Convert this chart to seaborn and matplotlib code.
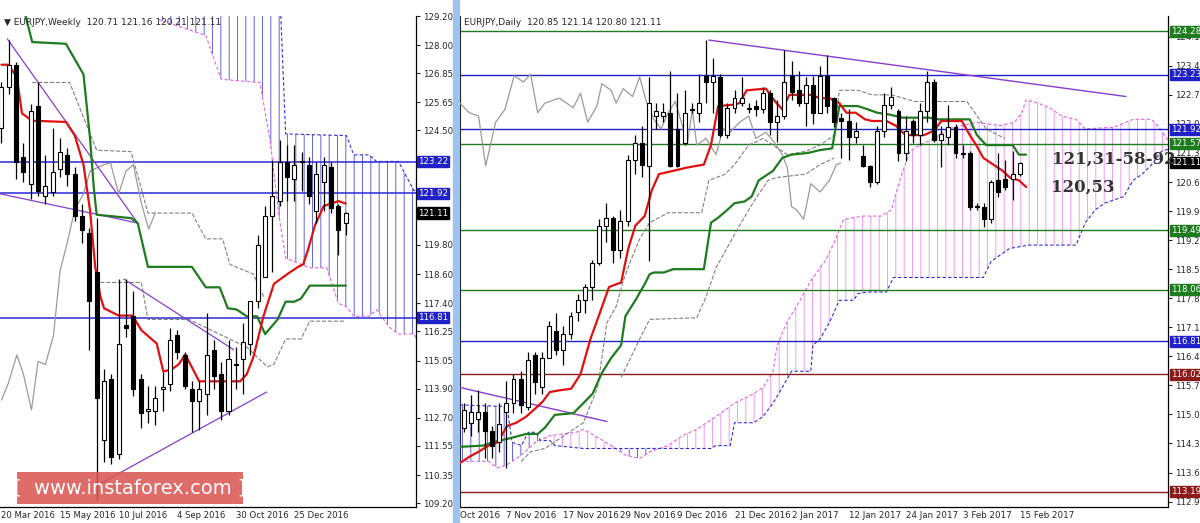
import numpy as np
import pandas as pd
import matplotlib
matplotlib.use('Agg')
from matplotlib import pyplot as plt
from matplotlib.patches import Rectangle
import matplotlib.transforms as mtransforms
import seaborn as sns

# ---------------- weekly data (left panel) ----------------
w_open = [124.6, 126.3, 127.2, 123.4, 122.3, 125.5, 121.8, 121.97, 122.9, 123.5, 122.7, 121.0,
          120.3, 118.7, 111.8, 114.3, 111.2, 116.5, 116.9, 114.3, 113.0, 113.0, 113.9, 114.1,
          116.1, 115.3, 113.9, 113.4, 113.7, 115.5, 114.5, 113.0, 114.9, 115.1, 115.75, 117.5,
          118.5, 121.0, 121.6, 123.2, 122.5, 123.2, 123.1, 121.2, 122.4, 123.0, 121.4, 120.71]
w_high = [126.5, 128.2, 127.3, 124.0, 125.6, 126.5, 123.5, 124.6, 124.2, 123.8, 123.0, 121.5,
          120.5, 120.9, 114.7, 114.5, 118.4, 118.4, 117.9, 114.5, 114.0, 114.0, 114.6, 116.4,
          116.3, 115.4, 114.2, 114.2, 117.0, 115.9, 115.0, 115.9, 115.6, 116.6, 117.5, 120.2,
          121.4, 123.3, 124.1, 123.9, 123.9, 123.6, 123.4, 123.2, 123.4, 123.2, 121.5, 121.16]
w_low = [124.0, 126.0, 122.5, 122.4, 121.7, 121.8, 121.5, 121.8, 122.6, 122.2, 120.8, 119.9,
         115.5, 109.3, 110.9, 110.8, 111.0, 116.0, 113.6, 112.3, 112.5, 112.4, 113.0, 113.8,
         115.1, 113.9, 112.1, 112.2, 112.8, 113.9, 112.6, 112.8, 113.9, 113.7, 115.3, 117.2,
         118.6, 118.7, 121.4, 121.6, 121.6, 122.0, 121.5, 120.7, 121.2, 121.1, 119.4, 120.21]
w_close = [126.3, 127.2, 123.2, 122.8, 125.3, 122.0, 122.2, 122.8, 123.6, 122.7, 121.0, 120.4,
           117.5, 113.5, 114.2, 111.1, 115.75, 116.4, 113.9, 112.9, 113.05, 113.5, 113.95, 115.9,
           115.4, 114.0, 113.4, 113.9, 115.3, 114.4, 113.0, 115.1, 114.85, 115.8, 117.5, 119.8,
           121.0, 121.8, 123.2, 122.6, 123.1, 123.25, 121.8, 122.7, 123.1, 121.3, 120.4, 121.11]

w_tenkan_x = [0, 0.9, 2.1, 2.8, 4.2, 8.8, 10, 11.2, 12.1, 12.8, 13.5, 14, 16, 17.9, 19.1, 21.2, 22.1,
              23.3, 24.2, 25.1, 27, 29.8, 32.6, 33.5, 34.4, 35.8, 37.2, 38.1, 39.5, 40.5, 41.2, 41.9,
              42.8, 44, 46, 47]
w_tenkan_y = [127.2, 127.2, 126.7, 125.2, 124.9, 124.85, 124.3, 123.1, 121.2, 118.9, 117.7, 117.2,
              116.9, 116.9, 116.3, 115.75, 114.6, 114.7, 114.9, 115.3, 114.2, 114.2, 114.2, 114.5,
              115.2, 116.9, 118.2, 118.4, 118.7, 118.9, 119.0, 119.65, 120.6, 121.4, 121.6, 121.5]
w_kijun_x = [2.8, 3.3, 4.2, 8.8, 11.2, 12.1, 12.6, 13, 17.7, 18.6, 20, 26, 27.9, 29.8, 30.9, 32.1,
             33.5, 34.9, 36, 37.7, 38.8, 40, 40.9, 42.1, 47]
w_kijun_y = [129.8, 129.19, 128.13, 128.06, 126.8, 124.16, 122.17, 121.04, 120.9, 120.7, 118.9,
             118.9, 118.06, 118.06, 117.2, 117.15, 116.87, 116.87, 116.14, 116.74, 117.47, 117.47,
             117.6, 118.13, 118.13]
w_chikou_x = [0, 0.9, 2.1, 3, 4.1, 5, 6, 7.1, 8, 9, 10, 11.2, 12.1, 13, 14, 14.9, 16, 17, 18, 19.1,
              20.1, 21]
w_chikou_y = [113.43, 114.09, 115.28, 114.49, 113.03, 115.02, 114.89, 116.08, 118.73, 119.92,
              121.24, 121.9, 122.83, 122.96, 123.1, 123.16, 121.9, 122.83, 123.1, 121.51, 120.45,
              121.11]
w_span1_x = [21.4, 27.9, 30, 35.3, 36.7, 37.9, 38.8, 42.1, 44.4, 46, 47.1, 48.1, 50.2, 51.2, 53, 54.2,
             56.3, 57.2, 58.1]
w_span1_y = [129.06, 128.4, 126.6, 126.47, 124.03, 120.98, 119.26, 118.86, 118.86, 117.4, 117.27,
             116.87, 116.87, 117.14, 116.41, 116.14, 116.14, 115.68, 115.61]
w_span2_y = [131.0, 131.0, 131.0, 131.0, 131.0, 131.0, 124.36, 124.33, 124.31, 124.3, 124.29,
             123.5, 123.5, 123.23, 123.23, 123.23, 122.04, 122.0, 121.97]
w_gray1_x = [4.2, 9.3, 13, 17.7, 20, 26, 27.9, 30.2, 31.2, 34.4, 35.8]
w_gray1_y = [126.47, 126.47, 123.69, 123.63, 121.11, 121.11, 120.05, 120.05, 119.0, 118.6, 117.67]
w_gray2_x = [13.5, 19.1, 20, 25.6, 33.5, 36.3, 37.2, 38.8, 40.9, 42.1, 47]
w_gray2_y = [118.26, 118.26, 116.74, 116.74, 115.6, 114.8, 114.9, 115.94, 115.94, 116.67, 116.67]
w_trend = [((-0.2, 121.9), (18.6, 120.7)), ((0.8, 128.26), (18.6, 120.7)),
           ((16.7, 118.4), (31.7, 115.5)), ((13.5, 110.0), (36.2, 113.76))]
w_levels = [123.22, 121.92, 116.81]
w_ticks = [129.20, 128.00, 126.85, 125.65, 124.50, 119.80, 118.60, 117.40, 116.25, 115.05,
           113.90, 112.70, 111.55, 110.35, 109.20]
w_dates = ['20 Mar 2016', '15 May 2016', '10 Jul 2016', '4 Sep 2016', '30 Oct 2016', '25 Dec 2016']
w_date_pos = [0, 8, 16, 24, 32, 40]

# ---------------- daily data (right panel) ----------------
d_open = [114.73, 114.85, 114.93, 115.12, 114.65, 114.38, 115.12, 115.32, 115.9, 115.24, 116.48,
          115.7, 116.41, 117.07, 116.6, 116.99, 117.53, 117.8, 118.12, 118.7, 119.6, 119.79, 119.01,
          119.71, 121.19, 121.58, 121.04, 122.24, 122.24, 122.32, 121.93, 121.58, 122.38, 122.32,
          123.21, 123.06, 123.18, 121.78, 122.44, 122.55, 122.41, 122.48, 122.4, 122.79, 122.09,
          122.24, 123.21, 122.86, 122.55, 122.98, 122.32, 123.21, 122.67, 122.2, 122.12, 121.74,
          121.27, 121.04, 120.65, 121.89, 122.51, 122.36, 121.35, 122.12, 121.78, 122.36, 123.06,
          121.66, 121.74, 121.97, 121.35, 121.35, 120.08, 120.06, 119.75, 120.69, 120.73, 120.73,
          120.85]
d_high = [115.32, 115.51, 115.63, 115.32, 114.77, 115.32, 115.86, 116.02, 116.1, 116.56, 116.56,
          116.56, 117.3, 117.5, 117.18, 117.53, 117.96, 118.2, 118.78, 119.75, 120.14, 119.83, 119.98,
          121.3, 121.78, 122.01, 123.18, 122.55, 122.55, 123.33, 122.79, 122.86, 122.55, 123.25,
          124.07, 123.64, 123.25, 122.55, 122.86, 123.18, 122.55, 122.63, 122.94, 122.86, 122.63,
          123.84, 123.56, 123.33, 123.18, 123.21, 123.45, 123.72, 122.71, 122.32, 122.4, 122.09,
          121.54, 121.07, 122.01, 122.79, 122.94, 122.4, 122.24, 122.16, 122.55, 123.33, 123.14,
          122.01, 122.51, 122.05, 121.54, 121.39, 120.14, 120.14, 120.69, 121.35, 121.19, 121.39,
          121.14]
d_low = [114.62, 114.54, 114.62, 113.99, 113.99, 114.15, 113.76, 115.08, 115.08, 115.16, 115.55,
         115.55, 116.41, 116.48, 116.25, 116.87, 117.3, 117.49, 117.8, 118.66, 119.2, 118.7, 118.82,
         119.6, 120.84, 120.76, 118.74, 121.93, 122.09, 121.0, 121.0, 121.54, 122.32, 122.09,
         122.55, 122.32, 121.74, 121.7, 122.32, 122.48, 122.32, 122.24, 122.32, 121.78, 121.62,
         122.16, 122.63, 122.48, 122.01, 122.05, 122.32, 122.32, 121.97, 121.23, 121.19, 121.58,
         121.0, 120.53, 120.61, 121.74, 122.4, 121.15, 121.15, 121.58, 121.54, 122.09, 121.62,
         121.0, 121.54, 121.23, 121.23, 119.98, 119.98, 119.56, 119.67, 120.3, 120.45, 120.22,
         120.80]
d_close = [115.16, 115.12, 115.12, 114.65, 114.3, 114.81, 115.32, 115.9, 115.28, 116.37, 115.82,
           116.41, 117.18, 116.6, 116.99, 117.42, 117.8, 118.12, 118.7, 119.6, 119.79, 119.01, 119.71,
           121.19, 121.58, 121.07, 122.55, 122.36, 122.34, 121.04, 121.04, 122.32, 122.41, 122.55,
           123.06, 123.21, 121.78, 122.44, 122.67, 122.67, 122.43, 122.4, 122.79, 122.09, 122.24,
           123.06, 122.82, 122.55, 122.98, 122.32, 123.21, 122.48, 122.09, 122.12, 121.74, 121.89,
           121.04, 120.65, 121.89, 122.51, 122.71, 121.35, 121.89, 121.78, 122.36, 123.06, 121.66,
           121.81, 121.97, 121.35, 121.33, 120.06, 120.05, 119.75, 120.65, 120.41, 120.53, 120.84,
           121.11]

d_tenkan_x = [-0.5, 0.8, 2.1, 3.5, 4.8, 6.1, 7.4, 8.8, 10.1, 11.1, 12.1, 13.4, 15.1, 16.4, 17.8, 19.1,
              20.4, 22.1, 23.1, 24.1, 25.4, 26.4, 27.4, 29.4, 31.4, 32.7, 33.7, 34.7, 35.7, 37.7, 38.7,
              39.7, 42.4, 43.7, 44.7, 45.7, 48.7, 50, 51.3, 52.7, 53.7, 55, 56.3, 57.3, 59.3, 60.6,
              62, 64.6, 66, 67, 69.9, 70.9, 71.9, 72.9, 74.3, 75.6, 76.6, 77.9, 78.9]
d_tenkan_y = [113.88, 114.03, 114.15, 114.3, 114.38, 114.77, 114.85, 115.0, 115.2, 115.36, 115.59,
              115.63, 115.67, 116.02, 116.87, 117.49, 118.12, 118.23, 119.05, 119.6, 119.83, 120.45,
              120.84, 120.92, 121.0, 121.04, 121.07, 121.54, 122.48, 122.51, 122.55, 122.86, 122.9,
              122.59, 122.4, 122.75, 122.75, 122.67, 122.67, 122.55, 122.32, 122.32, 122.16, 122.12,
              122.12, 122.01, 121.78, 121.78, 121.89, 122.12, 122.12, 121.81, 121.54, 121.23, 121.07,
              120.92, 120.76, 120.69, 120.53]
d_kijun_x = [-0.5, 2.8, 4.1, 6.1, 8.8, 10.4, 11.4, 12.8, 15.4, 16.8, 18.1, 19.4, 20.7, 22.1, 22.7,
             24.1, 25.4, 26.1, 26.7, 28.1, 29.4, 33.7, 34.7, 35.7, 37, 38, 39.4, 40.4, 41.4, 43.4, 44.7,
             46, 48.3, 50, 51.7, 52.7, 55.3, 56.7, 58, 59.6, 61.6, 65.3, 66.6, 71, 72, 73.3, 77, 77.9,
             78.9]
d_kijun_y = [114.27, 114.3, 114.38, 114.46, 114.58, 114.58, 114.73, 115.04, 115.08, 115.32, 115.55,
             116.05, 116.41, 116.72, 117.42, 117.8, 118.19, 118.43, 118.47, 118.47, 118.55, 118.55,
             119.67, 119.79, 119.98, 120.14, 120.18, 120.3, 120.69, 120.92, 121.23, 121.31, 121.35,
             121.42, 121.46, 122.48, 122.48, 122.4, 122.32, 122.28, 122.2, 122.2, 122.16, 122.16,
             121.78, 121.54, 121.54, 121.31, 121.31]
d_chikou_x = [-0.5, 0.8, 2.1, 3.1, 4.5, 5.8, 7.1, 8.4, 9.4, 10.4, 11.4, 13.4, 15.4, 16.4, 17.4, 18.7,
              19.4, 20.7, 21.4, 22.4, 23.7, 24.7, 25.7, 26.7, 27.7, 28.7, 29.7, 31.4, 32.1, 32.7, 34,
              35.4, 36.4, 37.4, 38.7, 40, 41, 42.4, 43.7, 44.7, 45.4, 46, 46.7, 47.7, 48.7, 50, 51.3,
              52.3, 52.9]
d_chikou_y = [122.55, 122.32, 122.24, 121.04, 122.09, 122.4, 123.21, 123.06, 123.25, 122.32, 122.55,
              122.67, 122.44, 122.79, 122.09, 122.48, 123.02, 122.86, 122.55, 122.9, 122.71, 123.18,
              122.55, 122.16, 121.93, 122.32, 122.59, 121.58, 122.4, 121.54, 121.7, 121.31, 121.93,
              121.85, 122.09, 122.24, 121.7, 121.85, 121.58, 121.31, 121.0, 120.06, 119.98, 119.75,
              120.61, 120.41, 120.69, 121.07, 121.11]
d_spanA_x = [-0.5, 3.5, 4.8, 6.1, 8.1, 10.1, 12.1, 15.8, 16.8, 18.4, 20.7, 22.7, 24.7, 26.1, 28.7,
             30.7, 32.7, 35.4, 38, 40.7, 42, 43.4, 44, 45.3, 46.7, 48.7, 50.7, 52, 53.3, 56, 58.6, 60,
             61.3, 62.6, 64, 66, 68, 69.9, 71.9, 75.3, 77.3, 78.3, 78.9, 80.6, 82.2, 83.9, 85.9, 87.2,
             91.2, 93.9, 96.5, 97.9, 99.2]
d_spanA_y = [113.92, 113.92, 113.76, 113.84, 114.07, 114.38, 114.54, 114.62, 114.69, 114.54, 114.3,
             114.07, 113.99, 114.15, 114.3, 114.54, 114.69, 115.0, 115.32, 115.55, 115.7, 116.09,
             116.72, 117.26, 117.65, 118.27, 118.74, 119.2, 119.75, 119.83, 119.83, 119.98, 120.76,
             121.39, 121.54, 121.7, 121.93, 122.01, 122.09, 122.01, 122.09, 122.32, 122.63, 122.55,
             122.44, 122.24, 122.16, 121.93, 121.97, 122.16, 122.16, 121.89, 121.54]
d_spanB_x = [-0.5, 6.1, 6.8, 8.1, 9.1, 10.1, 10.8, 12.1, 12.8, 16.8, 34.7, 35.4, 37.4, 38, 40.7, 42,
             43.4, 44.7, 46, 48.7, 49, 50, 51.3, 52.7, 54.7, 55.3, 56.6, 59.3, 60.3, 72.9, 74, 76.6,
             79.3, 85.9, 87.2, 88.6, 89.9, 92.6, 93.9, 95.2, 96.5, 97.9, 99.2]
d_spanB_y = [115.28, 115.24, 114.38, 114.3, 114.62, 114.62, 114.42, 114.42, 114.3, 114.23, 114.23,
             114.3, 114.3, 114.85, 114.85, 115.0, 115.32, 115.7, 116.09, 116.09, 116.72, 116.87,
             117.26, 117.8, 117.8, 117.96, 118.0, 118.0, 118.35, 118.35, 118.74, 119.05, 119.13,
             119.13, 119.67, 119.98, 120.14, 120.3, 120.69, 120.84, 121.07, 121.39, 121.46]
d_gray1_x = [8.1, 9.4, 11.4, 16.8, 18.8, 20.1, 21.4, 22.4, 23.4, 24.7, 26.1, 28.7, 33.4, 34.4, 36.7,
             38, 40, 42, 43.4, 45.4, 48, 50, 52, 52.7, 55.3, 57.3, 60, 63.3, 70.6, 73.3, 75.9]
d_gray1_y = [113.92, 114.15, 114.23, 114.85, 115.7, 117.26, 117.65, 118.27, 118.74, 119.28, 119.67,
             119.91, 119.91, 120.69, 120.84, 121.07, 121.54, 121.7, 121.54, 121.31, 121.39, 121.54,
             121.78, 122.86, 122.86, 122.75, 122.75, 122.59, 122.59, 121.93, 121.7]
d_gray2_x = [22.1, 24.7, 26.1, 32.7, 34, 35.4, 37.4, 38.7, 40.7, 42.7, 44, 46, 48, 50, 52]
d_gray2_y = [115.94, 116.87, 117.34, 117.38, 117.88, 118.58, 119.2, 119.6, 120.18, 120.69, 120.76,
             120.8, 120.84, 121.07, 121.23]
d_trend = [((34.4, 124.07), (92.9, 122.71)), ((-0.5, 115.7), (20.1, 114.88))]
d_levels = [124.28, 123.23, 121.92, 121.57, 119.49, 118.06, 116.81, 116.02, 113.19]
d_level_colors = ['#1e7b1e', '#2020c8', '#2020c8', '#1e7b1e', '#1e7b1e', '#1e7b1e', '#2020c8',
                  '#8b1a1a', '#8b1a1a']
d_ticks = [124.15, 123.45, 122.75, 122.05, 121.35, 120.65, 119.95, 119.25, 118.55, 117.85, 117.15,
           116.45, 115.75, 115.05, 114.35, 113.65, 112.95]
d_dates = ['Oct 2016', '7 Nov 2016', '17 Nov 2016', '29 Nov 2016', '9 Dec 2016', '21 Dec 2016',
           '2 Jan 2017', '12 Jan 2017', '24 Jan 2017', '3 Feb 2017', '15 Feb 2017']
d_date_pos = [-0.55, 6, 14, 22, 30, 38, 46, 54, 62, 70, 78]

# ---------------- drawing ----------------
sns.set_style('white')
plt.rcParams['font.family'] = ['DejaVu Sans']
plt.rcParams['hatch.linewidth'] = 0.6

fig = plt.figure(figsize=(12, 5.23), dpi=100)
H = 523.0
ax_w = fig.add_axes([0.0, 16 / H, 416 / 1200, 491 / H])
ax_d = fig.add_axes([460 / 1200, 16 / H, 708 / 1200, 491 / H])
fig.patches.append(Rectangle((453 / 1200, 0), 6 / 1200, 1, transform=fig.transFigure,
                             color='#9fc3ee', zorder=0))

PINK = '#e860e8'
BLUE = '#3030d0'


def candles(ax, o, h, l, c, width):
    x = np.arange(len(o))
    o, h, l, c = map(np.asarray, (o, h, l, c))
    ax.vlines(x, l, h, color='black', linewidth=0.9, zorder=4)
    up = c >= o
    bottom = np.minimum(o, c)
    height = np.maximum(np.abs(c - o), 0.02)
    ax.bar(x[up], height[up], width, bottom=bottom[up], color='white', edgecolor='black',
           linewidth=0.8, zorder=5)
    ax.bar(x[~up], height[~up], width, bottom=bottom[~up], color='black', edgecolor='black',
           linewidth=0.8, zorder=5)


def cloud(ax, xa, ya, xb, yb, x_end):
    grid = np.linspace(xa[0], x_end, 600)
    a = np.interp(grid, xa, ya)
    b = np.interp(grid, xb, yb)
    ax.fill_between(grid, a, b, where=a >= b, interpolate=True, facecolor='none',
                    edgecolor='#f08cf0', hatch='||', linewidth=0, zorder=1)
    ax.fill_between(grid, a, b, where=a < b, interpolate=True, facecolor='none',
                    edgecolor='#4a4ad8', hatch='||', linewidth=0, zorder=1)
    ax.plot(xa, ya, color=PINK, lw=0.8, ls=(0, (3, 2)), zorder=2)
    ax.plot(xb, yb, color=BLUE, lw=0.8, ls=(0, (3, 2)), zorder=2)


def line(ax, xs, ys, color, lw, ls='-'):
    sns.lineplot(x=xs, y=ys, ax=ax, color=color, linewidth=lw, linestyle=ls, sort=False,
                 estimator=None, zorder=3)


def style_axis(ax, ticks, xlim, ylim):
    ax.set_xlim(*xlim)
    ax.set_ylim(*ylim)
    ax.yaxis.tick_right()
    ax.set_yticks(ticks)
    ax.set_yticklabels([f'{t:.2f}' for t in ticks], fontsize=6.2)
    ax.tick_params(axis='y', length=3, width=0.8, pad=2, direction='out', right=True)
    ax.set_xticks([])
    for s in ['top', 'left']:
        ax.spines[s].set_visible(False)
    for s in ['right', 'bottom']:
        ax.spines[s].set_color('black')
        ax.spines[s].set_linewidth(0.9)


def level_box(ax, y, text, color, textcolor='white'):
    trans = mtransforms.blended_transform_factory(ax.transAxes, ax.transData)
    ax.text(1.004, y, text, transform=trans, fontsize=6.2, color=textcolor, va='center',
            ha='left', clip_on=False, zorder=10,
            bbox=dict(boxstyle='square,pad=0.12', facecolor=color, edgecolor=color))


# weekly
w_ylim = (109.04, 129.19)
cloud(ax_w, w_span1_x, w_span1_y, w_span1_x, w_span2_y, 58.1)
line(ax_w, w_gray1_x, w_gray1_y, '#808080', 0.8, '--')
line(ax_w, w_gray2_x, w_gray2_y, '#808080', 0.8, '--')
line(ax_w, w_chikou_x, w_chikou_y, '#9a9a9a', 0.9)
for lv in w_levels:
    ax_w.axhline(lv, color='#2a2ad8', lw=1.1, zorder=2)
for (x0, y0), (x1, y1) in w_trend:
    ax_w.plot([x0, x1], [y0, y1], color='#8a3ccf', lw=0.9, zorder=3)
line(ax_w, w_kijun_x, w_kijun_y, '#1e7b1e', 1.6)
line(ax_w, w_tenkan_x, w_tenkan_y, '#e01010', 1.6)
candles(ax_w, w_open, w_high, w_low, w_close, 0.55)
style_axis(ax_w, w_ticks, (-0.2, 56.6), w_ylim)
level_box(ax_w, 123.22, '123.22', '#2020c8')
level_box(ax_w, 121.92, '121.92', '#2020c8')
level_box(ax_w, 121.11, '121.11', 'black')
level_box(ax_w, 116.81, '116.81', '#2020c8')
for p, lab in zip(w_date_pos, w_dates):
    ax_w.text(p, -0.008, lab, transform=mtransforms.blended_transform_factory(ax_w.transData,
              ax_w.transAxes), fontsize=6.1, va='top', ha='left', clip_on=False)
ax_w.text(0.01, 0.995, '\u25bc EURJPY,Weekly  120.71 121.16 120.21 121.11', transform=ax_w.transAxes,
          fontsize=6.5, va='top', ha='left', zorder=11)

# daily
d_ylim = (112.82, 124.65)
cloud(ax_d, d_spanA_x, d_spanA_y, d_spanB_x, d_spanB_y, 99.2)
line(ax_d, d_gray1_x, d_gray1_y, '#808080', 0.8, '--')
line(ax_d, d_gray2_x, d_gray2_y, '#808080', 0.8, '--')
line(ax_d, d_chikou_x, d_chikou_y, '#9a9a9a', 0.9)
for lv, col in zip(d_levels, d_level_colors):
    ax_d.axhline(lv, color=col, lw=1.0, zorder=2)
for (x0, y0), (x1, y1) in d_trend:
    ax_d.plot([x0, x1], [y0, y1], color='#8a3ccf', lw=1.0, zorder=3)
line(ax_d, d_kijun_x, d_kijun_y, '#1e7b1e', 1.6)
line(ax_d, d_tenkan_x, d_tenkan_y, '#e01010', 1.6)
candles(ax_d, d_open, d_high, d_low, d_close, 0.55)
style_axis(ax_d, d_ticks, (-0.5, 98.8), d_ylim)
ax_d.spines['left'].set_visible(True)
ax_d.spines['left'].set_color('black')
for lv, col in zip(d_levels, d_level_colors):
    level_box(ax_d, lv, f'{lv:.2f}', col)
level_box(ax_d, 121.11, '121.11', 'black')
for p, lab in zip(d_date_pos, d_dates):
    ax_d.text(p, -0.008, lab, transform=mtransforms.blended_transform_factory(ax_d.transData,
              ax_d.transAxes), fontsize=6.3, va='top', ha='left', clip_on=False)
ax_d.text(0.005, 0.995, 'EURJPY,Daily  120.85 121.14 120.80 121.11', transform=ax_d.transAxes,
          fontsize=6.5, va='top', ha='left', zorder=11)
ax_d.text(82.6, 121.2, '121,31-58-92', fontsize=12, fontweight='bold', family='DejaVu Serif',
          color='#333333', va='center', zorder=11)
ax_d.text(82.4, 120.53, '120,53', fontsize=12, fontweight='bold', family='DejaVu Serif',
          color='#333333', va='center', zorder=11)

# watermark
fig.patches.append(Rectangle((17 / 1200, 19 / H), 226 / 1200, 32 / H, transform=fig.transFigure,
                             facecolor='#d9534f', alpha=0.85, edgecolor='none', zorder=20))
fig.text(130 / 1200, 35 / H, '[  www.instaforex.com ]', color='white', fontsize=14,
         ha='center', va='center', zorder=21)

fig.savefig('out.png', dpi=100)
